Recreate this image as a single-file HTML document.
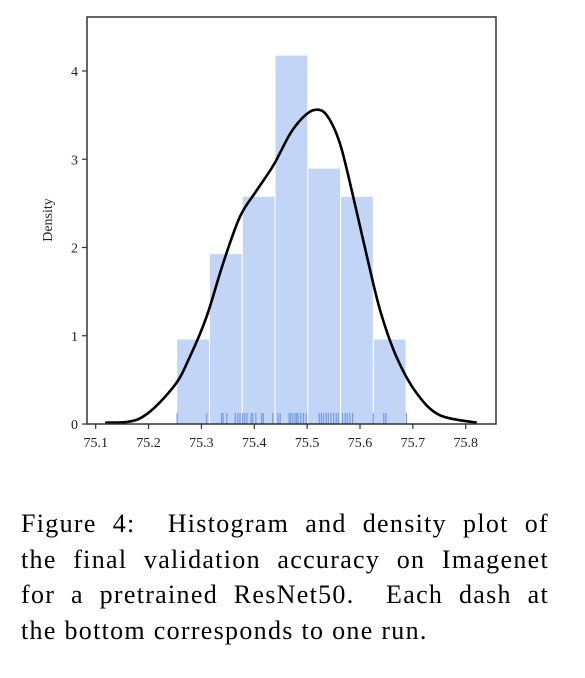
<!DOCTYPE html>
<html><head><meta charset="utf-8"><style>
html,body{margin:0;padding:0;background:#fff;width:585px;height:678px;overflow:hidden}
svg{position:absolute;left:0;top:0}
.cap{position:absolute;left:21px;width:528px;font-family:"Liberation Serif",serif;font-size:26px;letter-spacing:1.3px;color:#000;white-space:nowrap}
.j{text-align:justify;text-align-last:justify}
</style></head><body>
<svg id="chart" width="585" height="480"></svg>
<div class="cap j" style="top:509px">Figure 4: &nbsp;Histogram and density plot of</div>
<div class="cap j" style="top:545px">the final validation accuracy on Imagenet</div>
<div class="cap j" style="top:580px">for a pretrained ResNet50. &nbsp;Each dash at</div>
<div class="cap" style="top:616px">the bottom corresponds to one run.</div>
<script>
const binStart = 75.2533;
const binWidth = 0.062;
const binHeights = [0.963, 1.93, 2.58, 4.18, 2.90, 2.58, 0.963];
const rugValues = [75.254,75.310,75.338,75.341,75.348,75.364,75.369,75.373,75.378,75.382,75.386,75.394,75.397,75.403,75.414,75.417,75.435,75.445,75.449,75.466,75.469,75.473,75.477,75.480,75.483,75.488,75.493,75.498,75.523,75.527,75.531,75.536,75.540,75.545,75.550,75.555,75.559,75.567,75.572,75.576,75.581,75.586,75.625,75.645,75.649,75.688];
const kdeX = [75.118,75.184,75.247,75.278,75.310,75.341,75.373,75.405,75.436,75.468,75.493,75.515,75.537,75.562,75.587,75.613,75.638,75.669,75.707,75.751,75.821];
const kdeY = [0.015,0.065,0.42,0.76,1.22,1.82,2.35,2.65,2.93,3.29,3.48,3.56,3.50,3.18,2.58,1.90,1.29,0.76,0.35,0.10,0.015];
const xTicks = [75.1,75.2,75.3,75.4,75.5,75.6,75.7,75.8];
const yTicks = [0,1,2,3,4];

const NS='http://www.w3.org/2000/svg';
const svg=document.getElementById('chart');
const L=87,R=496,T=17,B=424;
const sx=v=>95.7+(v-75.1)*528.6;
const sy=v=>B-v*88.25;
function mk(tag,attrs,parent){const e=document.createElementNS(NS,tag);for(const k in attrs)e.setAttribute(k,attrs[k]);(parent||svg).appendChild(e);return e;}

binHeights.forEach((h,i)=>{
  const x0=sx(binStart+i*binWidth), x1=sx(binStart+(i+1)*binWidth);
  const r=mk('rect',{x:x0,y:sy(h),width:x1-x0,height:B-sy(h),fill:'#c2d5f6',stroke:'#ffffff','stroke-width':1});
  
  
});
rugValues.forEach(v=>{
  const l=mk('line',{x1:sx(v),x2:sx(v),y1:B-11,y2:B,stroke:'#6f9cf0','stroke-width':1.2});
  
  
});
const pts=kdeX.map((x,i)=>[sx(x),sy(kdeY[i])]);
let d='M'+pts[0][0].toFixed(1)+','+pts[0][1].toFixed(1);
for(let i=0;i<pts.length-1;i++){
  const p0=pts[Math.max(0,i-1)],p1=pts[i],p2=pts[i+1],p3=pts[Math.min(pts.length-1,i+2)];
  const c1=[p1[0]+(p2[0]-p0[0])/6,p1[1]+(p2[1]-p0[1])/6];
  const c2=[p2[0]-(p3[0]-p1[0])/6,p2[1]-(p3[1]-p1[1])/6];
  d+=' C'+c1[0].toFixed(1)+','+c1[1].toFixed(1)+' '+c2[0].toFixed(1)+','+c2[1].toFixed(1)+' '+p2[0].toFixed(1)+','+p2[1].toFixed(1);
}
const path=mk('path',{d:d,fill:'none',stroke:'#000','stroke-width':2.6,'stroke-linejoin':'round'});



const frame=mk('rect',{x:L,y:T,width:R-L,height:B-T,fill:'none',stroke:'#333','stroke-width':1.5});



xTicks.forEach(t=>{
  const x=sx(t);
  const tk=mk('line',{x1:x,x2:x,y1:B,y2:B+5,stroke:'#333','stroke-width':1.2});
  
  
  const tx=mk('text',{x:x,y:B+23,'text-anchor':'middle','font-family':'Liberation Serif, serif','font-size':14,fill:'#222'});
  tx.textContent=t.toFixed(1);
  
  
});
yTicks.forEach(t=>{
  const y=sy(t);
  const tk=mk('line',{x1:L-5,x2:L,y1:y,y2:y,stroke:'#333','stroke-width':1.2});
  
  
  const tx=mk('text',{x:L-9,y:y+5,'text-anchor':'end','font-family':'Liberation Serif, serif','font-size':14,fill:'#222'});
  tx.textContent=t;
  
  
});
const yl=mk('text',{x:0,y:0,transform:'translate(52,220) rotate(-90)','text-anchor':'middle','font-family':'Liberation Serif, serif','font-size':14,fill:'#222'});
yl.textContent='Density';


</script>
</body></html>
